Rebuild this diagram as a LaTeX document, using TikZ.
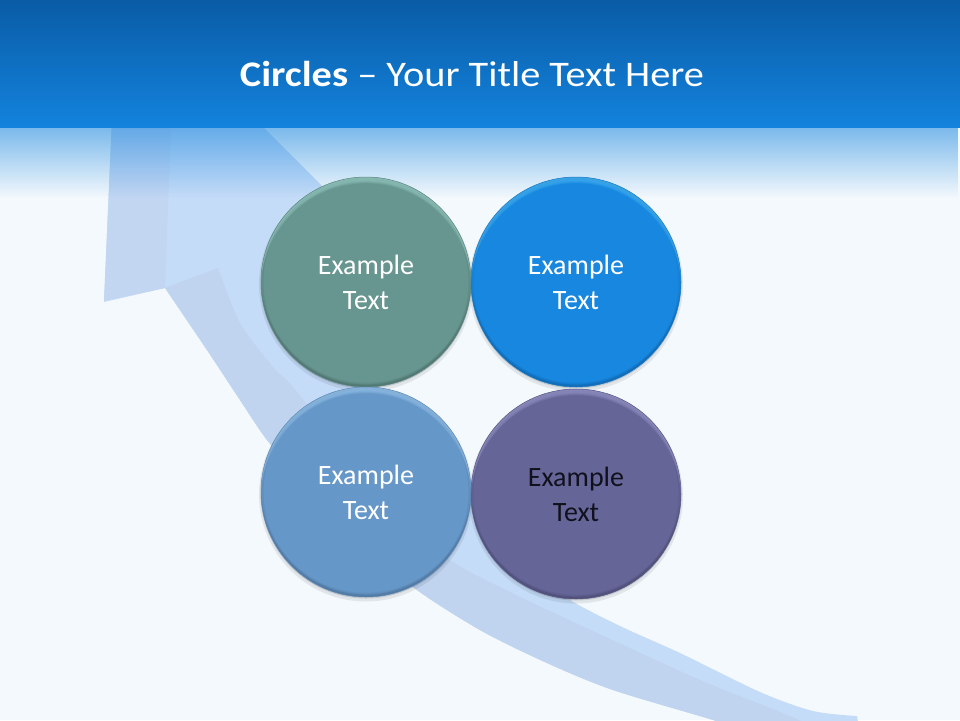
\documentclass[tikz,border=0pt]{standalone}
\usepackage{fontspec}
\setmainfont{Carlito}
\newfontfamily\titlefont[FakeStretch=1.12]{Carlito}
\usetikzlibrary{fadings,calc}

\definecolor{bgc}{HTML}{F4F9FD}
\definecolor{hdrA}{HTML}{0A5CA6}
\definecolor{hdrB}{HTML}{1383DD}
\definecolor{arrLight}{HTML}{C5DCF8}
\definecolor{arrDark}{HTML}{C0D3EF}
\definecolor{arrStrip}{HTML}{C2D6F2}
\definecolor{gBase}{HTML}{67958F}
\definecolor{gHi}{HTML}{A6DCD6}
\definecolor{gEdge}{HTML}{5E8A85}
\definecolor{bBase}{HTML}{1787E0}
\definecolor{bHi}{HTML}{55C2FA}
\definecolor{bEdge}{HTML}{1A7CCB}
\definecolor{sBase}{HTML}{6697C9}
\definecolor{sHi}{HTML}{A6D2F6}
\definecolor{sEdge}{HTML}{5D8BBA}
\definecolor{pBase}{HTML}{656598}
\definecolor{pHi}{HTML}{A8A6DA}
\definecolor{pEdge}{HTML}{5B5B8B}
\definecolor{darkText}{HTML}{11111E}

\tikzfading[name=bandfade, top color=transparent!45, bottom color=transparent!100]

\tikzset{
  bubble/.style={circle, minimum size=210pt, inner sep=0pt, align=center,
    font=\fontsize{28}{35}\selectfont, text=white},
}

\newcommand\bevelcirc[3]{%
  \begin{scope}
    \clip (#1.center) circle (105);
    \foreach \k in {1,...,7} {
      \fill[#2, opacity=0.16, even odd rule]
        ($(#1.center)+(-112,-112)$) rectangle ($(#1.center)+(112,112)$)
        ($(#1.center)+(0,\k*0.9)$) circle (105);
    }
    \foreach \k in {1,...,5} {
      \fill[black, opacity=0.03, even odd rule]
        ($(#1.center)+(-112,-112)$) rectangle ($(#1.center)+(112,112)$)
        ($(#1.center)+(0,-\k*0.9)$) circle (105);
    }
    \draw[black, opacity=0.05, line width=5pt] (#1.center) circle (105);
  \end{scope}
  \draw[#3, line width=0.5pt] (#1.center) circle (105);
}

\begin{document}
\begin{tikzpicture}[x=1pt,y=-1pt]
\useasboundingbox (0,0) rectangle (960,720);
\fill[bgc] (0,0) rectangle (960,720);

% big arrow
\begin{scope}
  \clip (0,0) rectangle (960,720);
  \fill[arrLight] (118,-18) -- (104,302)
    -- plot[smooth] coordinates {(165,288) (207,350) (240,400) (267,440) (300,477) (327,503) (370,545) (413,587) (480,630) (547,663) (613,690) (713,720) (790,745)}
    -- (862,745)
    -- plot[smooth] coordinates {(857,716) (813,711) (760,692) (680,653) (620,626) (567,598) (530,566) (500,532) (460,488) (420,440) (380,388) (345,330) (315,282) (290,239)}
    -- (344,208) -- cycle;
  \fill[arrDark] (165,288)
    -- plot[smooth] coordinates {(218,268) (240,323) (273,367) (293,387) (342,449) (404,516) (450,560) (510,592) (580,625) (700,680) (780,712) (855,745)}
    -- plot[smooth] coordinates {(790,745) (713,720) (613,690) (547,663) (480,630) (413,587) (370,545) (327,503) (300,477) (267,440) (240,400) (207,350) (165,288)}
    -- cycle;
  \fill[arrStrip] (112.8,100) -- (104,301) -- (165,288) -- (172,100) -- cycle;
\end{scope}

% fade band under the header
\fill[hdrB, path fading=bandfade] (0,126) rectangle (960,198);
% header
\shade[top color=hdrA, bottom color=hdrB] (0,0) rectangle (960,127);

\node[text=white, anchor=base, font=\titlefont\fontsize{36}{40}\selectfont] (title) at (472,86) {\textbf{Circles} – Your Title Text Here};

% shadows
\foreach \cx/\cy in {366/281, 576/281, 366/491, 576/493} {
  \fill[black, opacity=0.08] (\cx,\cy+3.5) circle (107);
  \fill[black, opacity=0.12] (\cx,\cy+2) circle (105.5);
}

\node[bubble, fill=gBase] (c1) at (366,282) {Example\\Text};
\bevelcirc{c1}{gHi}{gEdge}
\node[bubble, fill=bBase] (c2) at (576,282) {Example\\Text};
\bevelcirc{c2}{bHi}{bEdge}
\node[bubble, fill=sBase] (c3) at (366,492) {Example\\Text};
\bevelcirc{c3}{sHi}{sEdge}
\node[bubble, fill=pBase, text=darkText] (c4) at (576,494) {Example\\Text};
\bevelcirc{c4}{pHi}{pEdge}
\end{tikzpicture}
\end{document}
